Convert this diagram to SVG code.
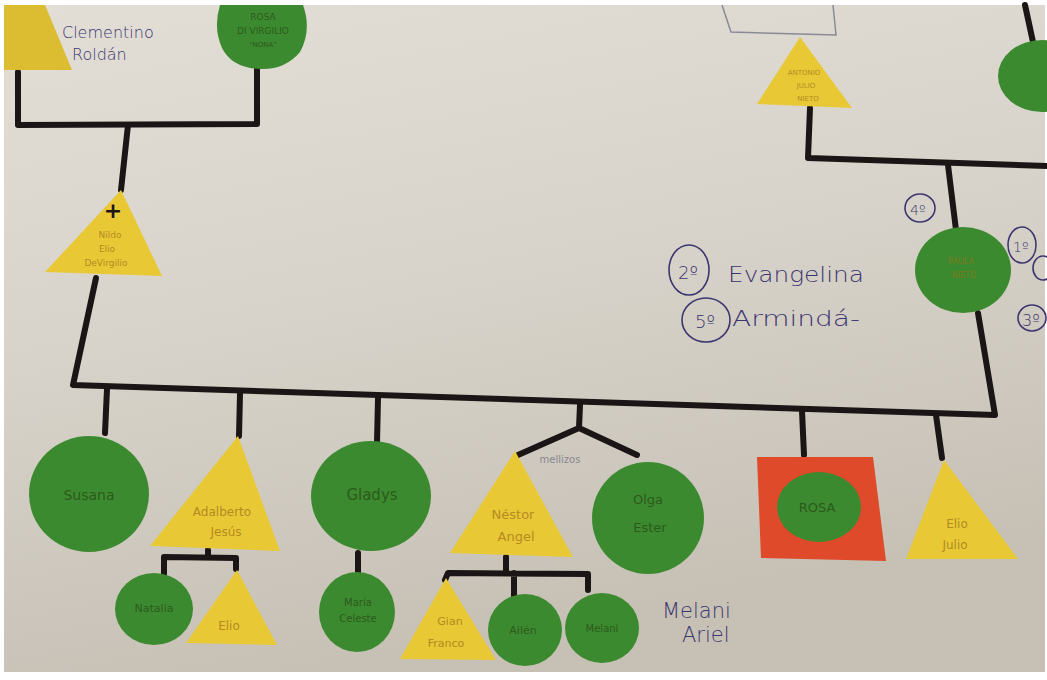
<svg xmlns="http://www.w3.org/2000/svg" width="1047" height="680" viewBox="0 0 1047 680">
<defs>
<linearGradient id="paper" x1="0" y1="0" x2="0.3" y2="1">
<stop offset="0" stop-color="#e2ded6"/>
<stop offset="0.5" stop-color="#d8d3ca"/>
<stop offset="1" stop-color="#c6c0b5"/>
</linearGradient>
<style>
.line{fill:none;stroke:#1c1515;stroke-width:6;stroke-linecap:round;stroke-linejoin:round}
.fem{fill:#3c8a2f}
.mal{fill:#e8c935}
.tg{font-family:"DejaVu Sans",sans-serif;fill:#2c5a1c;text-anchor:middle}
.ty{font-family:"DejaVu Sans",sans-serif;fill:#b48a22;text-anchor:middle}
.tp{font-family:"DejaVu Sans",sans-serif;fill:#7a7a20;text-anchor:middle}
.hw{font-family:"DejaVu Sans",sans-serif;fill:#3c3570;font-weight:300}
.ring{fill:none;stroke:#3c3570;stroke-width:1.6}
</style>
</defs>
<rect width="1047" height="680" fill="#ffffff"/>
<rect x="4" y="5" width="1041" height="667" fill="url(#paper)"/>

<g id="outline-box">
<path d="M722,5 L731,32 L836,35 L833,5" fill="none" stroke="#8a8a96" stroke-width="1.5"/>
</g>

<g id="connectors">
<path class="line" d="M18,72 L18,125 L257,124 L257,68"/>
<path class="line" d="M128,125 L121,190"/>
<path class="line" d="M96,278 L73,385 L995,415 L978,313"/>
<path class="line" d="M948,165 L956,230"/>
<path class="line" d="M810,108 L808,158 L1047,166"/>
<path class="line" d="M1025,5 L1033,42"/>
<path class="line" d="M107,389 L105,433"/>
<path class="line" d="M240,394 L239,436"/>
<path class="line" d="M378,398 L377,443"/>
<path class="line" d="M580,405 L579,428 L518,455 M579,428 L637,455"/>
<path class="line" d="M802,411 L804,455"/>
<path class="line" d="M936,415 L942,458"/>
<path class="line" d="M208,550 L208,557 M164,574 L164,557 L236,558 L236,569"/>
<path class="line" d="M358,553 L358,575"/>
<path class="line" d="M506,557 L506,572 M445,580 L448,573 L588,574 L588,590 M514,573 L514,596"/>
</g>

<g id="clementino">
<polygon points="4,5 45,5 72,70 4,70" fill="#dcbc30"/>
<text class="hw" x="62" y="38" font-size="16">Clementino</text>
<text class="hw" x="72" y="60" font-size="16">Roldán</text>
</g>

<g id="rosa-divirgilio">
<path class="fem" d="M220,5 L303,5 Q312,30 300,52 Q285,70 260,69 Q232,68 222,48 Q213,28 220,5 Z"/>
<text class="tg" x="263" y="20" font-size="9">ROSA</text>
<text class="tg" x="263" y="34" font-size="9">DI VIRGILIO</text>
<text class="tg" x="263" y="47" font-size="7">"NONA"</text>
</g>

<g id="nildo">
<polygon class="mal" points="121,190 162,276 45,272"/>
<text x="113" y="218" font-family="DejaVu Sans,sans-serif" font-size="22" font-weight="bold" fill="#1c1515" text-anchor="middle">+</text>
<text class="ty" x="110" y="238" font-size="9">Nildo</text>
<text class="ty" x="107" y="252" font-size="9">Elio</text>
<text class="ty" x="106" y="266" font-size="9">DeVirgilio</text>
</g>

<g id="antonio">
<polygon class="mal" points="800,37 852,108 757,104"/>
<text class="ty" x="804" y="75" font-size="7">ANTONIO</text>
<text class="ty" x="806" y="88" font-size="7">JULIO</text>
<text class="ty" x="808" y="101" font-size="7">NIETO</text>
</g>

<g id="partial-right">
<ellipse class="fem" cx="1042" cy="76" rx="44" ry="36"/>
</g>

<g id="paula">
<ellipse class="fem" cx="963" cy="270" rx="48" ry="43"/>
<text class="tp" x="961" y="264" font-size="8">PAULA</text>
<text class="tp" x="964" y="278" font-size="8">NIETO</text>
</g>

<g id="order-notes">
<ellipse class="ring" cx="920" cy="208" rx="15" ry="14"/>
<text class="hw" x="910" y="215" font-size="14">4º</text>
<ellipse class="ring" cx="1022" cy="245" rx="14" ry="18"/>
<text class="hw" x="1013" y="252" font-size="14">1º</text>
<ellipse class="ring" cx="1043" cy="268" rx="10" ry="12"/>
<ellipse class="ring" cx="1032" cy="318" rx="14" ry="13"/>
<text class="hw" x="1022" y="326" font-size="16" font-weight="bold">3º</text>
<ellipse class="ring" cx="689" cy="270" rx="20" ry="25"/>
<text class="hw" x="678" y="279" font-size="18">2º</text>
<text class="hw" x="728" y="282" font-size="22" textLength="136" lengthAdjust="spacingAndGlyphs">Evangelina</text>
<ellipse class="ring" cx="706" cy="320" rx="24" ry="22"/>
<text class="hw" x="695" y="328" font-size="18" font-weight="bold">5º</text>
<text class="hw" x="732" y="326" font-size="22" textLength="128" lengthAdjust="spacingAndGlyphs">Armindá-</text>
</g>

<g id="susana">
<ellipse class="fem" cx="89" cy="494" rx="60" ry="58"/>
<text class="tg" x="89" y="500" font-size="14">Susana</text>
</g>

<g id="adalberto">
<polygon class="mal" points="238,436 280,551 150,546"/>
<text class="ty" x="222" y="516" font-size="12">Adalberto</text>
<text class="ty" x="226" y="536" font-size="12">Jesús</text>
</g>

<g id="gladys">
<ellipse class="fem" cx="371" cy="496" rx="60" ry="55"/>
<text class="tg" x="372" y="500" font-size="15">Gladys</text>
</g>

<g id="nestor">
<polygon class="mal" points="515,451 573,557 450,553"/>
<text class="ty" x="513" y="519" font-size="13">Néstor</text>
<text class="ty" x="516" y="541" font-size="13">Angel</text>
</g>

<g id="mellizos-label">
<text x="560" y="463" font-family="DejaVu Sans,sans-serif" font-size="10" fill="#8a8690" text-anchor="middle">mellizos</text>
</g>

<g id="olga">
<ellipse class="fem" cx="648" cy="518" rx="56" ry="56"/>
<text class="tg" x="648" y="504" font-size="13">Olga</text>
<text class="tg" x="650" y="532" font-size="13">Ester</text>
</g>

<g id="rosa">
<polygon points="757,457 873,457 886,561 761,558" fill="#df4a2a"/>
<ellipse class="fem" cx="819" cy="507" rx="42" ry="35"/>
<text class="tg" x="817" y="512" font-size="13">ROSA</text>
</g>

<g id="elio-julio">
<polygon class="mal" points="944,460 1018,559 906,559"/>
<text class="ty" x="957" y="528" font-size="12">Elio</text>
<text class="ty" x="955" y="549" font-size="12">Julio</text>
</g>

<g id="natalia">
<ellipse class="fem" cx="154" cy="609" rx="39" ry="36"/>
<text class="tg" x="154" y="612" font-size="11">Natalia</text>
</g>

<g id="elio">
<polygon class="mal" points="237,570 277,645 186,643"/>
<text class="ty" x="229" y="630" font-size="12">Elio</text>
</g>

<g id="maria-celeste">
<ellipse class="fem" cx="357" cy="612" rx="38" ry="40"/>
<text class="tg" x="358" y="606" font-size="10">María</text>
<text class="tg" x="358" y="622" font-size="10">Celeste</text>
</g>

<g id="gian-franco">
<polygon class="mal" points="446,578 496,660 400,659"/>
<text class="ty" x="450" y="625" font-size="11">Gian</text>
<text class="ty" x="446" y="647" font-size="11">Franco</text>
</g>

<g id="ailen">
<ellipse class="fem" cx="525" cy="630" rx="37" ry="36"/>
<text class="tg" x="523" y="634" font-size="11">Ailén</text>
</g>

<g id="melani">
<ellipse class="fem" cx="602" cy="628" rx="37" ry="35"/>
<text class="tg" x="602" y="632" font-size="10">Melani</text>
</g>

<g id="melani-ariel-note">
<text class="hw" x="662" y="618" font-size="21">Melani</text>
<text class="hw" x="682" y="642" font-size="21">Ariel</text>
</g>
</svg>
